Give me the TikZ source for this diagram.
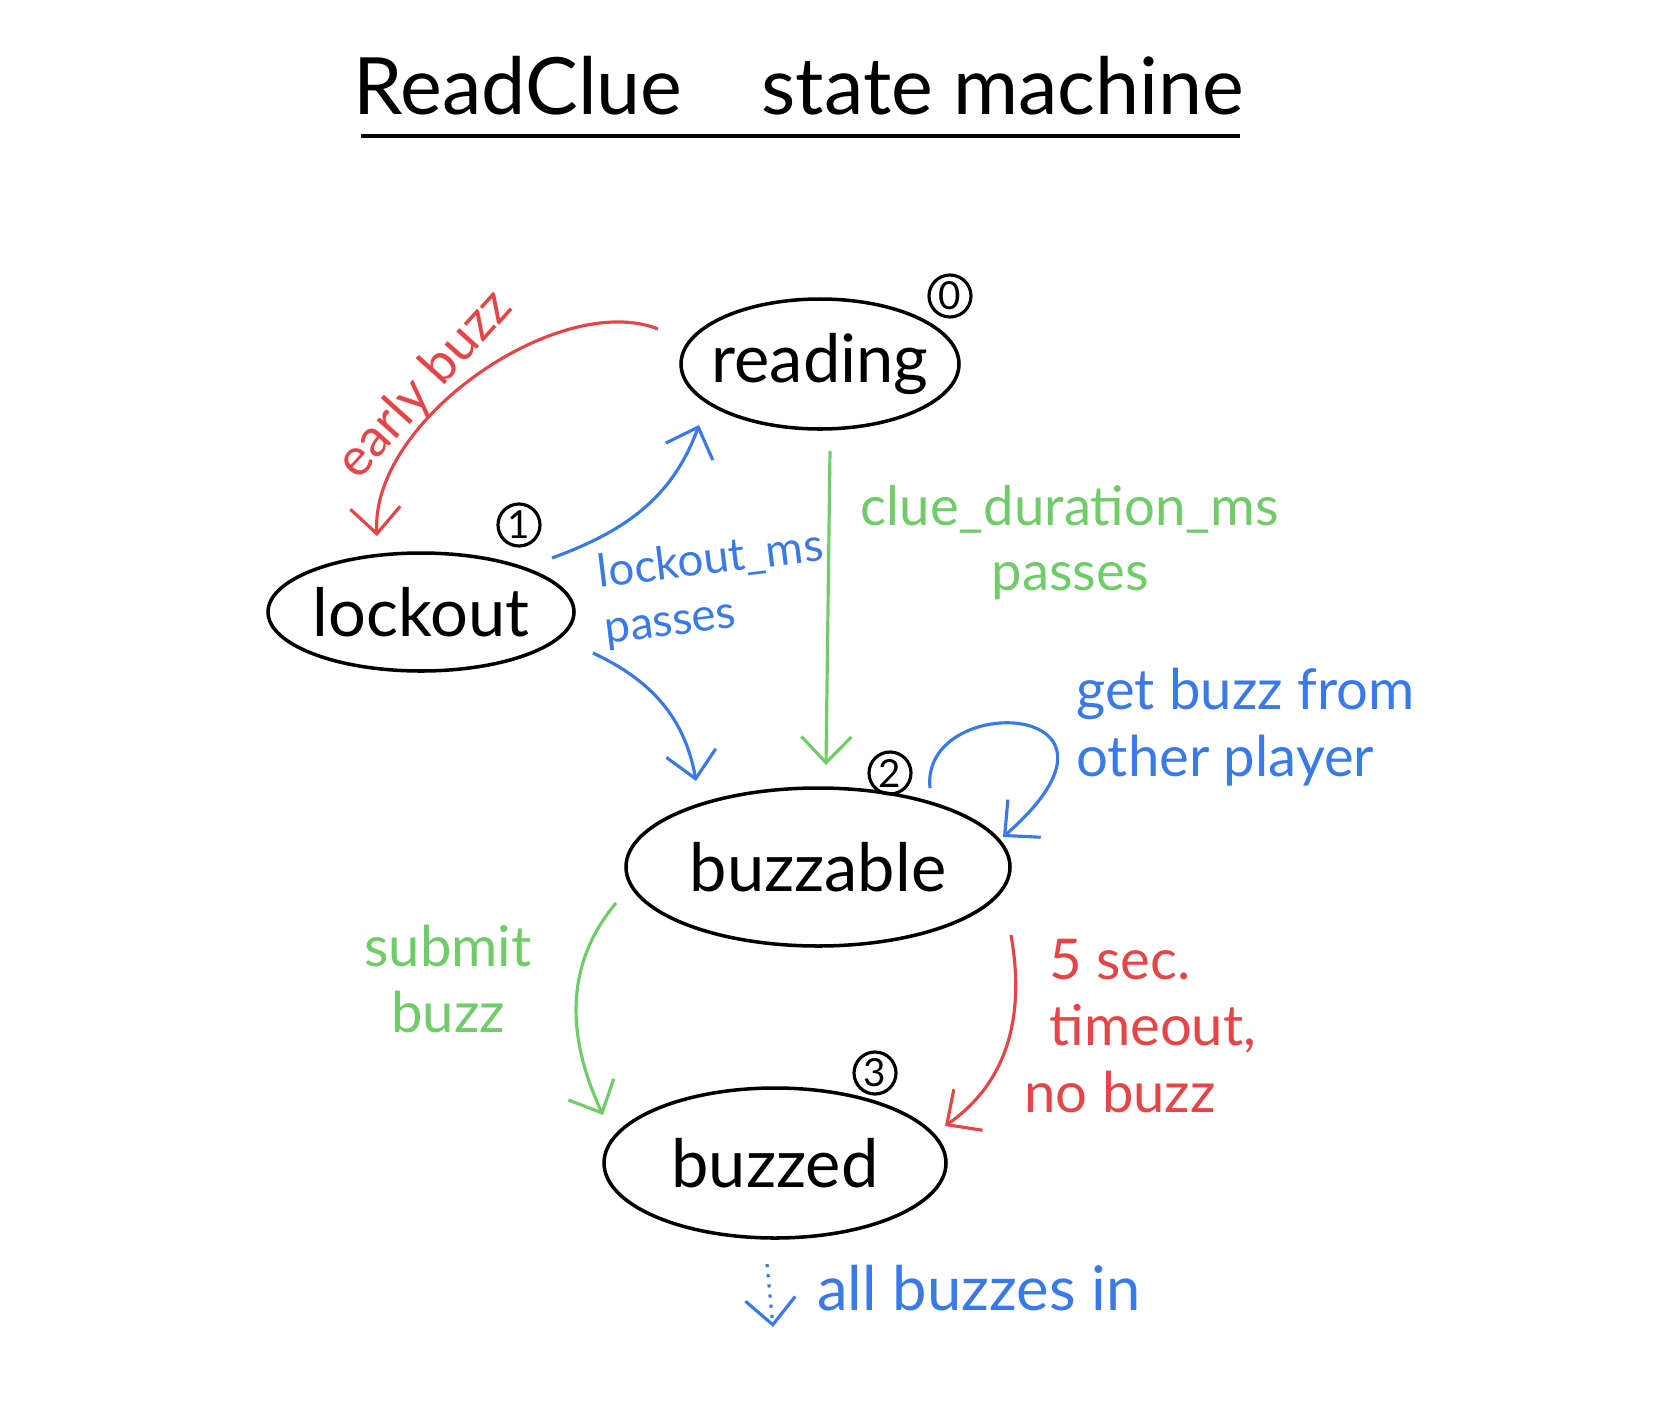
\documentclass[tikz,border=0pt]{standalone}
\usepackage{fontspec}
\setmainfont{Lato}
\usetikzlibrary{shapes.geometric,arrows.meta}

\definecolor{penred}{RGB}{228,70,72}
\definecolor{penblue}{RGB}{58,122,232}
\definecolor{pengreen}{RGB}{112,204,104}

\begin{document}
\begin{tikzpicture}[
  state/.style={ellipse, draw, line width=1pt, inner xsep=-1cm, inner ysep=-0.3cm, font=\fontsize{19}{22}\selectfont},
  num/.style={circle, draw, line width=0.9pt, minimum size=0.42cm, inner sep=0pt, font=\fontsize{11}{12}\selectfont},
  edge/.style={line width=0.9pt, -{Straight Barb[length=2.6mm,width=5mm]}},
  lbl/.style={font=\fontsize{16}{19}\selectfont, align=left}
]
  \useasboundingbox (0,0) rectangle (16.65,-14.17);

  % title
  \node[font=\fontsize{22.5}{26}\selectfont] (title) at (7.99,-0.86) {ReadClue\quad state machine};
  \draw[line width=1pt] (3.61,-1.36) -- (12.40,-1.36);

  % states
  \node[state, minimum width=2.78cm, minimum height=1.30cm] (reading) at (8.20,-3.64) {reading};
  \node[state, minimum width=3.06cm, minimum height=1.18cm] (lockout) at (4.21,-6.12) {lockout};
  \node[state, minimum width=3.84cm, minimum height=1.58cm] (buzzable) at (8.18,-8.67) {buzzable};
  \node[state, minimum width=3.42cm, minimum height=1.50cm] (buzzed) at (7.75,-11.63) {buzzed};

  \node[num] (n0) at (9.50,-2.96) {0};
  \node[num] (n1) at (5.19,-5.25) {1};
  \node[num] (n2) at (8.90,-7.73) {2};
  \node[num] (n3) at (8.75,-10.73) {3};

  % transitions
  \coordinate (rd0) at (6.58,-3.29);
  \coordinate (lo0) at (3.77,-5.36);
  \draw[edge, penred] (rd0) .. controls (5.6,-2.9) and (3.7,-4.2) .. (lo0);
  \node[penred, lbl, font=\fontsize{15}{18}\selectfont, rotate=48] (earlylbl) at (4.25,-3.85) {early buzz};

  \coordinate (lo1) at (5.52,-5.58);
  \coordinate (rd1) at (6.99,-4.25);
  \draw[edge, penblue] (lo1) to[out=20, in=-110] (rd1);
  \node[penblue, lbl, font=\fontsize{13}{16}\selectfont, rotate=7] (lomslbl) at (7.14,-5.89) {lockout\_ms\\passes};

  \coordinate (lo2) at (5.93,-6.53);
  \coordinate (bz1) at (6.96,-7.81);
  \draw[edge, penblue] (lo2) to[out=-25, in=100] (bz1);

  \coordinate (rd2) at (8.30,-4.51);
  \coordinate (bz2) at (8.26,-7.65);
  \draw[edge, pengreen] (rd2) -- (bz2);
  \node[pengreen, lbl, font=\fontsize{15.5}{18.5}\selectfont, align=center] (cluelbl) at (10.70,-5.43) {clue\_duration\_ms\\passes};

  \coordinate (bz3) at (9.30,-7.88);
  \coordinate (bz4) at (10.03,-8.37);
  \draw[edge, penblue] (bz3) .. controls (9.2,-6.9) and (11.6,-7.0) .. (bz4);
  \node[penblue, lbl, anchor=west] (otherlbl) at (10.64,-7.27) {get buzz from\\other player};

  \coordinate (bz5) at (6.16,-9.03);
  \coordinate (bd1) at (6.03,-11.15);
  \draw[edge, pengreen] (bz5) to[out=-130, in=115] (bd1);
  \node[pengreen, lbl, align=center] (submitlbl) at (4.48,-9.79) {submit\\buzz};

  \coordinate (bz6) at (10.11,-9.35);
  \coordinate (bd2) at (9.45,-11.26);
  \draw[edge, penred] (bz6) to[out=-80, in=35] (bd2);
  \node[penred, lbl, anchor=west] (timeoutlbl) at (10.12,-10.26) {\hspace{0.25cm}5 sec.\\\hspace{0.25cm}timeout,\\no buzz};

  \coordinate (bd3) at (7.67,-12.64);
  \coordinate (done) at (7.73,-13.27);
  \draw[edge, penblue, dotted] (bd3) -- (done);
  \node[penblue, lbl, font=\fontsize{17.5}{20}\selectfont, anchor=west] (alllbl) at (8.05,-12.88) {all buzzes in};
\end{tikzpicture}
\end{document}
